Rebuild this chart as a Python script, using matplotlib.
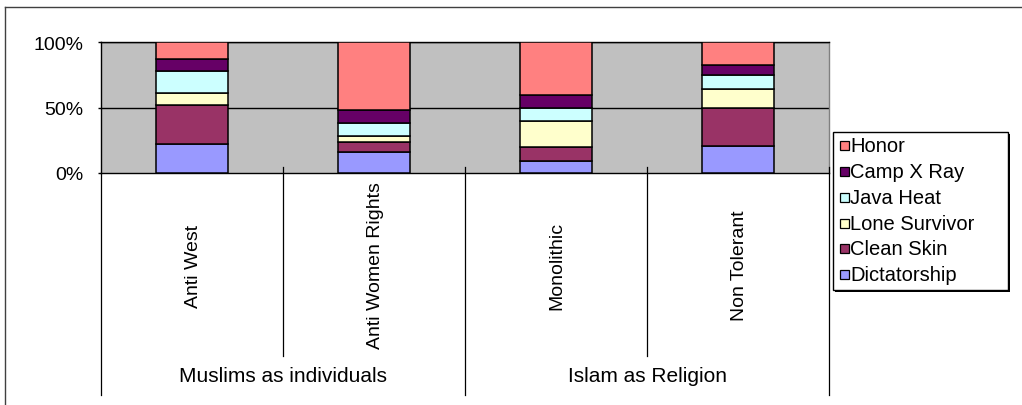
import matplotlib
matplotlib.use("Agg")
import matplotlib.pyplot as plt
from matplotlib.patches import Rectangle
from matplotlib.lines import Line2D
import numpy as np

plt.rcParams['font.family'] = ['Liberation Sans', 'DejaVu Sans']

categories = ["Anti West", "Anti Women Rights", "Monolithic", "Non Tolerant"]
groups = ["Muslims as individuals", "Islam as Religion"]
series_names = ["Dictatorship", "Clean Skin", "Lone Survivor", "Java Heat", "Camp X Ray", "Honor"]
colors = ["#9999FF", "#993366", "#FFFFCC", "#CCFFFF", "#660066", "#FF8080"]

dictatorship = [22, 16, 9.5, 20.5]
clean_skin = [30, 8, 10, 29.5]
lone_survivor = [9, 4, 20, 14.5]
java_heat = [17, 10, 10, 10]
camp_x_ray = [9, 10, 10, 8]
honor = [13, 52, 40.5, 17.5]
ytick_labels = ["0%", "50%", "100%"]

W, H = 1022, 406
fig = plt.figure(figsize=(W / 100, H / 100), dpi=100)

def fx(px):
    return px / W

def fy(py):
    return 1 - py / H

L, R, T, B = 101, 829, 43, 174
ax = fig.add_axes([fx(L), fy(B), fx(R - L), (B - T) / H])
ax.set_facecolor("#C0C0C0")

data = np.array([dictatorship, clean_skin, lone_survivor, java_heat, camp_x_ray, honor], dtype=float)
data = data / data.sum(axis=0)
x = np.arange(len(categories))
bottom = np.zeros(len(categories))
for vals, c in zip(data, colors):
    ax.bar(x, vals, width=0.4, bottom=bottom, color=c, edgecolor="black", linewidth=1.1, zorder=3)
    bottom += vals

ax.set_xlim(-0.5, len(categories) - 0.5)
ax.set_ylim(0, 1)
ax.set_yticks([0, 0.5, 1.0])
ax.set_yticklabels(ytick_labels, fontsize=14)
ax.set_xticks([])
ax.tick_params(axis="y", length=2, width=1, pad=10.5, color="black")
for yv in [0.5, 1.0]:
    ax.axhline(yv, color="black", linewidth=1.0, zorder=1)
ax.spines["left"].set_color("black")
ax.spines["bottom"].set_color("black")
ax.spines["top"].set_color("black")
ax.spines["right"].set_color("#808080")
for s in ax.spines.values():
    s.set_linewidth(1.0)

# multi-level category axis
cat_w = (R - L) / len(categories)
for i in range(len(categories) + 1):
    xp = L + i * cat_w
    if i % 2 == 0:
        y0, y1 = (B if i == 0 else B - 6), 396
    else:
        y0, y1 = B - 6, 357
    fig.add_artist(Line2D([fx(xp), fx(xp)], [fy(y0), fy(y1)], color="black", linewidth=0.9))

for i, c in enumerate(categories):
    xc = L + (i + 0.5) * cat_w
    fig.text(fx(xc + 1), fy(266), c, rotation=90, ha="center", va="center", fontsize=14)

for g_i, g in enumerate(groups):
    xc = L + (2 * g_i + 1) * cat_w
    fig.text(fx(xc), fy(377), g, ha="center", va="center", fontsize=15)

# outer chart border (top and left)
fig.add_artist(Line2D([fx(5), fx(1022)], [fy(8), fy(8)], color="#404040", linewidth=1.0))
fig.add_artist(Line2D([fx(5), fx(5)], [fy(8), fy(406)], color="#404040", linewidth=1.0))

# legend
lx0, lx1, ly0, ly1 = 833, 1008, 133, 291
fig.add_artist(Rectangle((fx(lx0 + 2), fy(ly1 + 2)), fx(lx1 - lx0), (ly1 - ly0) / H,
                         facecolor="black", edgecolor="none", transform=fig.transFigure, zorder=4))
fig.add_artist(Rectangle((fx(lx0), fy(ly1)), fx(lx1 - lx0), (ly1 - ly0) / H,
                         facecolor="white", edgecolor="black", linewidth=1.0,
                         transform=fig.transFigure, zorder=5))
entry_y = [146.7, 172.5, 198.3, 224.1, 249.9, 275.7]
for name, c, yc in zip(series_names[::-1], colors[::-1], entry_y):
    sq = 9
    fig.add_artist(Rectangle((fx(840), fy(yc + sq / 2)), fx(sq), sq / H,
                             facecolor=c, edgecolor="black", linewidth=0.9,
                             transform=fig.transFigure, zorder=6))
    fig.text(fx(850), fy(yc), name, ha="left", va="center", fontsize=14.5, zorder=7)

fig.savefig("out.png", dpi=100)
